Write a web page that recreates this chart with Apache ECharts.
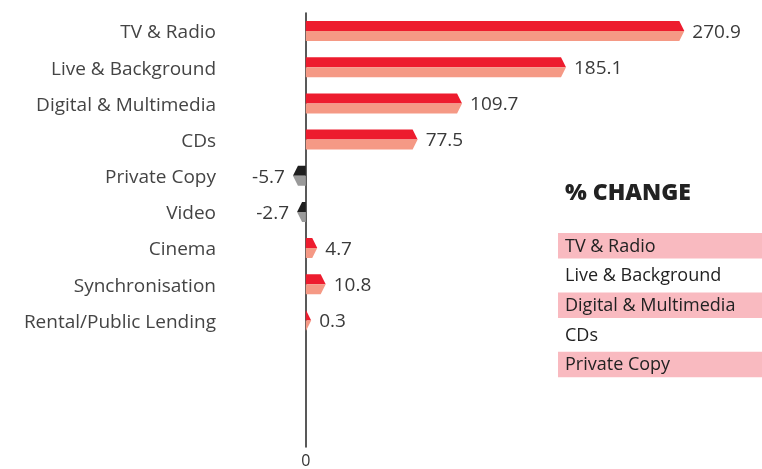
<!DOCTYPE html>
<html>
<head>
<meta charset="utf-8">
<script src="https://cdn.jsdelivr.net/npm/echarts@6/dist/echarts.min.js"></script>
<style>html,body{margin:0;padding:0;background:#fff;}#chart{width:762px;height:469px;}</style>
</head>
<body>
<div id="chart"></div>
<script>
var categories = ['TV & Radio', 'Live & Background', 'Digital & Multimedia', 'CDs', 'Private Copy', 'Video', 'Cinema', 'Synchronisation', 'Rental/Public Lending'];
var values = [270.9, 185.1, 109.7, 77.5, -5.7, -2.7, 4.7, 10.8, 0.3];
var panelTitle = '% CHANGE';
var panelItems = ['TV & Radio', 'Live & Background', 'Digital & Multimedia', 'CDs', 'Private Copy'];

var FONT = '"Open Sans"';
var chart = echarts.init(document.getElementById('chart'), null, {renderer: 'canvas'});

var yCats = categories.concat(['', '', '']);
var seriesData = values.map(function (v, i) { return [v, i]; });

function renderItem(params, api) {
  var v = api.value(0), idx = api.value(1);
  var p0 = api.coord([0, idx]);
  var p1 = api.coord([v, idx]);
  var half = 10, tip = 5;
  var dir = v >= 0 ? 1 : -1;
  var x0 = p0[0], x1 = p1[0], y = p0[1];
  var topColor = v >= 0 ? '#ED1C2E' : '#1f1f1f';
  var botColor = v >= 0 ? '#F59985' : '#9a9a9a';
  return {
    type: 'group',
    children: [
      {type: 'polygon', shape: {points: [[x0, y - half], [x1, y - half], [x1 + dir * tip, y], [x0, y]]}, style: {fill: topColor}},
      {type: 'polygon', shape: {points: [[x0, y], [x1 + dir * tip, y], [x1, y + half], [x0, y + half]]}, style: {fill: botColor}},
      {type: 'text', x: x1 + dir * (tip + 8), y: y + 1.5, style: {text: String(v), fill: '#3a3a3a', font: '19px ' + FONT, align: dir > 0 ? 'left' : 'right', verticalAlign: 'middle'}}
    ]
  };
}

var graphics = [
  {type: 'text', left: 565, top: 182, style: {text: panelTitle, fill: '#222', font: '800 23px ' + FONT}}
];
panelItems.forEach(function (t, i) {
  var top = 233 + i * 29.7;
  if (i % 2 === 0) {
    graphics.push({type: 'rect', shape: {x: 558, y: top, width: 210, height: 25.5}, style: {fill: '#F9BAC0'}});
  }
  graphics.push({type: 'text', x: 565, y: top + 13.5, style: {text: t, fill: '#222', font: '18px ' + FONT, verticalAlign: 'middle'}});
});

chart.setOption({
  animation: false,
  grid: {left: 292, right: 15, top: 13, height: 437},
  xAxis: {
    type: 'value', min: -10, max: 320, interval: 10,
    axisLine: {show: false}, axisTick: {show: false}, splitLine: {show: false},
    axisLabel: {margin: 6, fontSize: 16, fontFamily: 'Open Sans', color: '#333', formatter: function (v) { return v === 0 ? '0' : ''; }}
  },
  yAxis: {
    type: 'category', inverse: true, data: yCats,
    axisLine: {show: true, onZero: true, lineStyle: {color: '#222', width: 1.5}},
    axisTick: {show: false},
    axisLabel: {
      margin: 76, fontSize: 19, fontFamily: 'Open Sans', color: '#444',
      formatter: function (v) { return v ? '{a|' + v + '}' : ''; },
      rich: {a: {fontSize: 19, fontFamily: 'Open Sans', color: '#444', padding: [4, 0, 0, 0]}}
    }
  },
  series: [{type: 'custom', renderItem: renderItem, encode: {x: 0, y: 1}, data: seriesData, clip: false}],
  graphic: graphics
});
</script>
</body>
</html>
